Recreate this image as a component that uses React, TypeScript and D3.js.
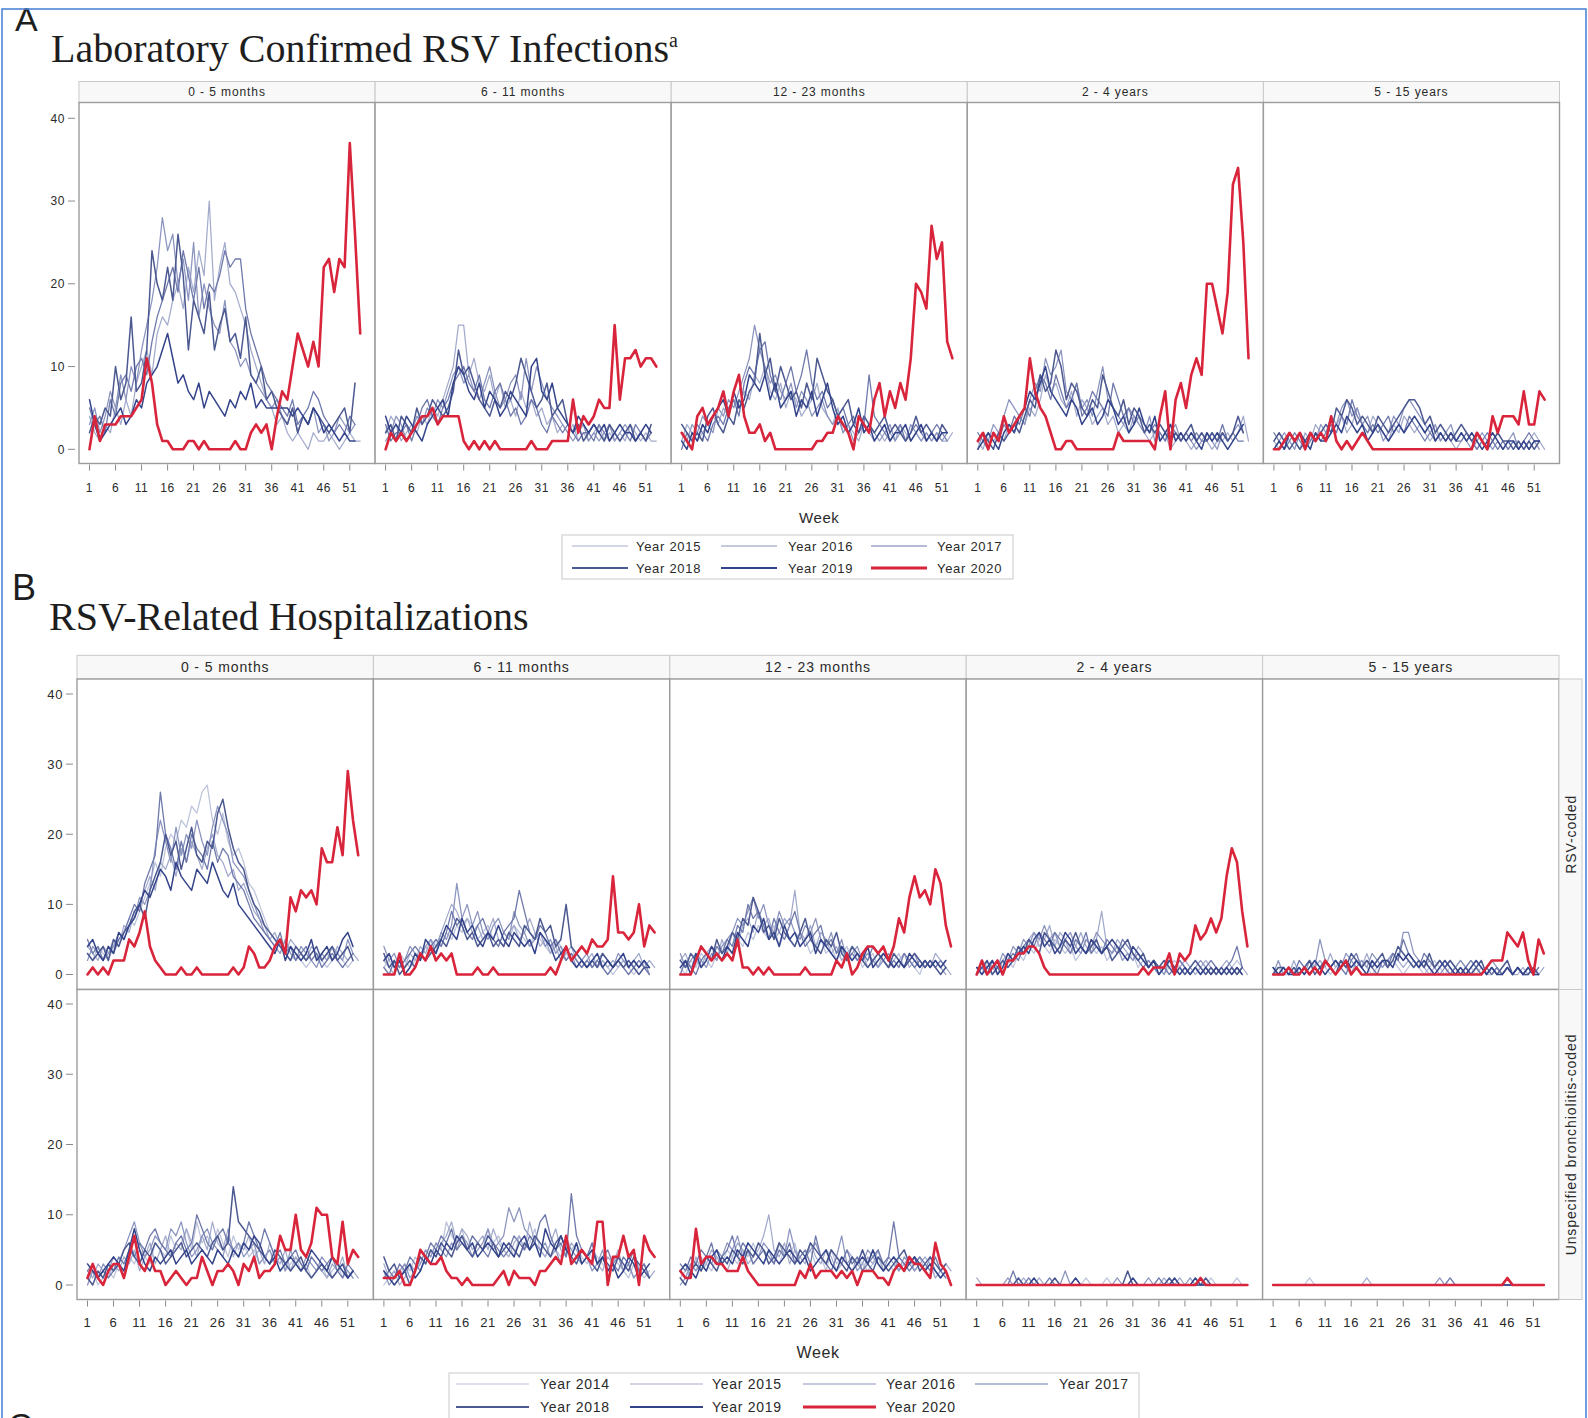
import React from 'react';
import * as d3 from 'd3';

// ---- axis / category definitions ----
const WEEK_TICKS = [1, 6, 11, 16, 21, 26, 31, 36, 41, 46, 51];
const Y_TICKS = [0, 10, 20, 30, 40];
const AGE_GROUPS = ['0 - 5 months', '6 - 11 months', '12 - 23 months', '2 - 4 years', '5 - 15 years'];
const LAB_YEARS = [2015, 2016, 2017, 2018, 2019, 2020];
const HOSP_YEARS = [2014, 2015, 2016, 2017, 2018, 2019, 2020];
const ROW_LABELS = ['RSV-coded', 'Unspecified bronchiolitis-coded'];

// ---- A: laboratory confirmed RSV infections, weekly counts (2015..2020) ----
const LAB_0_5M = [
  [4,2,1,3,2,5,3,6,4,8,10,12,9,14,16,15,18,20,17,22,19,24,21,30,18,22,25,20,19,17,15,12,10,8,6,5,3,4,2,1,2,1,0,2,1,1,2,1,0,1,2,1,1],
  [3,5,2,4,7,5,9,6,10,8,12,15,18,22,28,24,26,20,23,18,25,16,20,17,15,14,18,13,12,10,11,9,8,7,6,5,6,4,3,5,2,4,3,5,2,3,1,2,4,3,2,3],
  [5,3,4,2,6,4,8,9,7,10,11,9,13,16,18,20,22,19,24,21,18,22,17,20,19,21,24,22,23,23,17,14,12,10,8,7,6,5,4,6,3,4,5,7,6,4,3,2,3,2,4,3],
  [2,4,3,5,4,10,6,8,16,7,8,12,24,20,18,22,18,26,21,12,18,16,14,19,12,15,17,13,14,11,16,9,8,10,6,7,5,4,3,5,2,4,3,5,4,3,2,3,4,5,2,8],
  [6,3,1,2,3,4,5,3,4,6,5,8,9,10,12,14,11,8,9,7,6,8,5,7,6,5,4,6,5,7,6,8,5,6,5,5,5,5,5,4,5,4,3,5,4,2,3,2,1,2,1,1],
  [0,4,1,3,3,3,4,4,4,5,6,11,8,3,1,1,0,0,0,1,1,0,1,0,0,0,0,0,1,0,0,2,3,2,3,0,4,7,6,10,14,12,10,13,10,22,23,19,23,22,37,26,14],
];
const LAB_6_11M = [
  [2,4,3,1,2,3,2,4,3,5,4,6,8,10,15,15,9,11,8,7,9,6,8,5,6,4,7,5,6,4,5,3,4,2,3,2,3,1,2,1,2,3,1,2,1,2,1,3,2,1,2,1,1],
  [1,2,4,3,1,2,4,3,5,4,6,5,7,9,10,8,9,7,6,8,10,7,5,6,8,9,6,11,7,10,8,6,5,4,3,2,1,2,3,1,2,1,2,3,1,2,3,2,1,2,1,2],
  [3,1,2,2,3,1,3,5,6,4,3,5,6,8,9,10,8,7,9,6,5,7,8,6,4,5,3,4,6,5,3,2,4,3,2,3,2,1,2,2,1,3,2,1,2,1,2,1,3,2,1,2],
  [2,3,1,4,3,2,5,3,4,6,5,4,5,7,12,9,10,8,6,5,4,6,5,7,6,8,11,9,7,5,6,8,4,5,6,3,2,3,1,2,3,2,1,3,2,1,2,3,1,2,1,3],
  [4,2,3,2,4,3,2,1,3,4,5,6,4,8,10,9,7,6,8,5,7,6,4,5,7,6,5,4,10,11,7,6,8,5,4,3,2,4,3,2,3,2,3,1,2,3,2,2,1,2,3,2],
  [0,2,1,2,1,2,3,4,4,5,3,4,4,4,4,1,0,1,0,1,0,1,0,0,0,0,0,0,1,0,0,0,1,1,1,1,6,2,4,3,4,6,5,5,15,6,11,11,12,10,11,11,10],
];
const LAB_12_23M = [
  [1,3,2,1,2,3,4,3,5,4,6,5,7,6,9,8,10,7,6,8,5,7,6,4,5,6,8,5,4,3,5,2,3,2,1,3,2,1,2,1,2,1,3,2,1,2,1,2,1,2,1,1,2],
  [2,1,3,2,4,3,2,5,4,6,5,7,9,11,15,12,10,8,9,7,6,8,5,7,6,4,5,6,4,3,4,2,3,1,2,4,3,2,1,2,3,1,2,1,3,2,1,2,1,2,1,2],
  [0,2,1,3,2,1,3,4,3,5,6,4,8,10,9,12,13,9,7,6,8,10,7,9,12,8,6,7,5,6,4,5,3,4,2,3,9,4,3,2,1,2,3,1,2,3,2,1,2,3,2,1],
  [3,2,1,2,1,4,5,3,2,4,3,6,5,7,8,14,9,11,7,10,8,6,7,5,8,6,11,9,7,6,4,5,6,3,2,4,3,2,3,4,2,3,2,1,2,4,2,3,2,1,3,2],
  [1,0,2,1,3,2,4,5,6,4,7,5,6,9,8,7,9,6,8,5,6,7,4,6,5,7,4,6,8,5,3,4,2,3,5,2,3,1,2,3,1,2,2,3,1,2,3,1,2,1,2,2],
  [2,1,0,4,5,3,4,5,7,4,7,9,4,2,2,3,1,2,0,0,0,0,0,0,0,0,1,1,2,2,4,3,2,0,4,3,2,6,8,4,7,5,8,6,11,20,19,17,27,23,25,13,11],
];
const LAB_2_4Y = [
  [1,0,2,1,2,1,3,2,4,3,5,4,6,9,7,8,6,5,7,4,6,5,3,4,5,3,4,2,3,2,4,3,2,1,2,1,2,0,1,2,1,0,1,2,1,0,1,1,2,1,2,4,1],
  [0,2,1,3,2,4,6,5,4,3,6,8,7,11,9,10,12,7,6,8,5,6,4,7,10,6,5,4,3,5,4,3,2,4,1,2,1,2,3,1,2,1,0,1,2,1,0,2,1,2,3,2],
  [2,1,0,2,1,3,2,4,3,5,4,7,9,8,6,9,7,5,6,8,4,5,7,6,5,4,8,6,4,5,3,4,3,2,3,2,1,3,2,1,2,1,2,1,1,2,1,3,1,2,1,1],
  [1,2,1,0,2,1,2,3,2,4,6,5,9,7,8,12,10,6,8,7,5,4,6,5,9,7,5,4,6,3,5,4,2,3,2,3,2,1,2,1,2,3,1,2,1,2,1,2,1,2,4,2],
  [0,1,2,1,0,2,3,2,4,5,7,6,8,10,7,6,5,4,6,5,3,4,5,3,4,6,5,3,4,2,3,5,3,2,4,1,2,3,1,2,1,2,1,0,2,1,2,1,0,1,2,3],
  [1,2,0,2,1,4,2,3,4,5,11,7,5,4,2,0,0,1,1,0,0,0,0,0,0,0,0,2,1,1,1,1,1,1,0,4,7,0,6,8,5,9,11,9,20,20,17,14,19,32,34,25,11],
];
const LAB_5_15Y = [
  [1,0,1,2,1,0,2,1,3,2,1,2,3,4,2,3,5,3,2,4,3,2,1,3,2,4,3,2,3,2,1,2,1,2,1,0,1,2,1,0,1,0,1,2,1,0,1,1,0,1,2,1,0],
  [0,1,2,1,0,2,1,2,1,3,2,4,3,5,6,4,5,3,4,2,3,1,2,4,3,5,6,5,4,3,2,3,1,2,3,1,2,1,0,1,2,1,0,1,0,1,2,0,1,0,1,0],
  [2,1,0,1,2,1,0,1,2,1,2,3,2,4,3,6,4,3,2,3,2,3,4,2,3,2,4,3,2,1,2,1,2,1,2,1,1,2,1,0,1,2,1,0,1,0,1,0,1,2,1,1],
  [1,2,1,0,1,0,1,2,1,2,3,2,5,4,6,5,3,4,3,2,4,3,2,3,4,5,6,6,5,3,4,2,3,2,1,2,3,2,1,2,1,0,1,2,1,1,0,1,0,1,0,1],
  [0,1,0,2,1,2,1,0,2,1,1,2,3,2,4,3,2,3,1,2,3,2,1,2,3,2,3,4,3,2,3,1,2,1,2,1,2,1,2,1,0,1,2,1,0,1,1,0,1,0,1,1],
  [0,0,1,2,1,2,0,2,1,2,1,4,1,0,1,0,1,2,1,0,0,0,0,0,0,0,0,0,0,0,0,0,0,0,0,0,0,0,0,2,1,0,4,2,4,4,4,3,7,3,3,7,6],
];

// ---- B: RSV-coded hospitalizations, weekly counts (2014..2020) ----
const HOSP_RSV_0_5M = [
  [3,2,4,3,2,4,5,6,8,7,9,11,13,16,14,18,20,19,22,21,24,23,26,27,22,20,23,19,17,18,16,13,12,10,8,6,5,4,3,2,3,2,1,2,3,2,1,2,3,2,1,2],
  [4,3,2,4,3,5,4,7,6,9,10,12,14,12,16,15,17,14,18,16,19,17,15,18,20,17,16,14,15,12,13,11,9,8,7,5,6,4,3,5,4,3,2,4,3,2,3,2,4,3,2,3,2],
  [2,4,3,2,3,4,6,5,7,8,11,10,12,18,22,19,16,21,17,20,18,22,19,17,21,24,22,20,16,15,14,12,10,8,6,5,4,3,5,3,2,4,3,2,1,3,2,4,3,2,5,3],
  [5,3,4,2,4,3,5,6,8,10,9,13,15,17,26,20,18,15,19,16,20,18,17,15,19,16,18,17,14,13,12,10,8,7,6,5,4,6,3,4,2,3,4,2,3,1,2,3,2,1,2,3],
  [3,2,3,4,2,5,4,6,7,9,10,8,12,14,16,20,17,19,15,18,21,17,16,19,18,23,25,21,18,16,15,12,10,9,7,6,5,4,3,2,4,3,2,3,4,2,3,4,2,3,4,2],
  [4,5,3,2,4,3,6,5,7,8,10,12,11,13,15,14,12,16,14,13,12,15,14,13,16,14,12,11,13,10,9,8,7,6,5,4,3,5,2,4,3,2,3,5,2,3,4,2,3,5,6,4],
  [0,1,0,1,0,2,2,2,5,4,6,9,4,2,1,0,0,0,1,0,0,1,0,0,0,0,0,0,1,0,1,4,3,1,1,2,4,5,3,11,9,12,11,12,10,18,16,16,21,17,29,22,17],
];
const HOSP_RSV_6_11M = [
  [1,2,1,3,2,1,2,3,4,3,5,4,6,5,7,6,8,7,5,6,7,5,4,6,5,7,6,5,4,6,5,4,3,5,4,3,2,3,2,1,2,1,2,1,0,1,2,1,0,1,2,1],
  [2,1,0,2,1,3,2,4,3,5,4,6,8,10,9,7,8,6,7,5,6,8,5,4,6,7,5,6,8,6,4,5,3,4,2,3,4,2,1,2,3,1,2,1,2,1,2,1,2,3,1,2,1],
  [4,2,3,1,2,4,3,2,4,5,3,6,5,7,13,8,10,7,9,6,5,7,8,6,5,9,7,6,4,5,6,4,5,3,4,2,3,1,2,3,1,2,3,2,1,3,2,1,2,1,2,0],
  [1,0,2,1,2,3,4,3,2,4,5,4,6,9,7,8,6,5,7,8,6,5,4,6,7,8,12,9,6,5,7,6,4,5,3,2,3,2,1,2,1,2,1,0,1,2,1,0,1,2,1,0],
  [3,1,2,0,1,2,1,3,2,3,4,5,4,6,8,7,5,6,4,5,6,4,5,4,6,5,4,7,6,5,8,6,7,4,5,10,4,3,2,1,2,1,3,2,1,2,1,2,1,0,1,1],
  [2,3,1,2,0,1,3,2,5,4,3,5,7,6,5,8,6,7,5,4,6,5,7,5,4,6,5,4,5,3,6,5,4,2,3,4,2,1,2,1,2,3,1,2,1,2,3,1,2,1,2,1],
  [0,0,0,3,0,0,1,3,2,4,2,3,2,3,0,0,0,0,1,0,0,1,0,0,0,0,0,0,0,0,0,0,1,0,2,4,2,3,4,3,5,4,4,5,14,6,6,5,6,10,4,7,6],
];
const HOSP_RSV_12_23M = [
  [1,0,2,1,3,2,1,3,2,4,3,5,4,6,5,7,6,5,7,4,6,5,4,6,5,3,4,5,3,4,2,3,4,2,3,1,2,3,1,2,1,2,3,1,2,1,0,2,1,2,1,2],
  [2,3,1,2,1,3,4,2,5,3,6,4,7,8,6,9,7,8,5,6,8,7,12,6,5,7,4,6,5,3,4,2,3,4,2,3,1,2,1,3,2,1,2,3,1,2,1,2,1,3,2,1,0],
  [3,1,2,3,2,1,3,2,4,5,6,8,7,9,11,8,10,7,6,9,7,8,6,5,7,6,8,5,4,6,3,5,2,3,4,2,3,2,1,2,3,1,2,1,2,3,1,2,1,2,1,0],
  [0,2,1,0,2,3,2,4,3,5,4,7,6,10,8,9,7,5,8,6,5,7,9,6,4,5,6,7,4,5,3,4,2,3,2,3,2,4,3,2,1,2,1,3,2,1,2,1,2,1,2,1],
  [2,1,3,2,4,3,2,5,3,4,6,5,8,7,11,9,6,7,5,8,6,5,4,6,8,5,4,3,5,4,6,3,2,4,3,2,1,2,3,2,1,3,2,1,2,3,2,1,2,1,0,1],
  [1,2,0,3,1,2,4,3,2,4,3,6,5,4,7,6,8,5,6,4,7,5,6,4,5,6,3,5,4,3,2,4,3,2,3,2,4,1,2,3,2,1,2,1,3,2,1,2,1,2,1,2],
  [0,0,0,2,4,3,2,3,2,3,2,5,1,1,0,1,0,1,0,0,0,0,0,0,1,0,0,0,0,0,2,1,3,0,1,3,4,4,3,4,2,4,8,6,11,14,11,12,10,15,13,7,4],
];
const HOSP_RSV_2_4Y = [
  [0,1,0,1,2,1,2,1,3,2,4,3,5,4,3,5,4,3,4,2,3,5,4,3,4,2,3,4,3,2,3,1,2,1,2,1,0,1,2,1,0,1,0,1,0,1,0,1,0,1,2,1],
  [1,0,2,1,0,2,3,2,4,3,5,6,4,5,7,4,6,5,3,4,6,4,3,5,9,4,3,5,4,3,2,4,3,1,2,1,2,1,0,1,2,1,0,1,2,1,0,1,2,1,0,1,0],
  [0,2,1,0,1,3,2,4,3,5,4,6,5,7,5,6,4,5,6,4,3,5,4,6,5,4,3,4,2,3,2,3,2,1,2,1,0,2,1,2,1,0,1,2,1,0,1,0,1,0,1,0],
  [1,1,0,2,1,0,2,3,2,4,5,4,6,5,4,6,5,4,3,5,4,6,3,4,3,5,4,3,5,4,3,2,1,2,1,0,1,0,1,2,1,0,1,0,1,2,1,0,1,2,4,1],
  [0,1,2,0,1,2,1,2,4,3,5,4,3,6,5,4,3,5,4,6,4,3,4,5,3,4,2,3,4,5,3,2,3,1,2,1,2,1,0,1,0,1,2,1,0,1,0,1,0,1,0,1],
  [1,0,1,2,0,1,3,2,3,4,3,5,6,4,5,3,4,6,5,3,4,3,5,4,3,4,5,4,3,2,4,3,2,1,2,0,1,2,1,0,1,0,1,0,1,0,1,0,1,0,1,0],
  [0,2,0,1,2,0,2,2,3,3,4,4,3,1,0,0,0,0,0,0,0,0,0,0,0,0,0,0,0,0,0,0,1,0,1,1,1,3,0,3,2,3,7,5,6,8,6,8,14,18,16,9,4],
];
const HOSP_RSV_5_15Y = [
  [0,1,0,0,1,0,1,0,1,2,1,0,1,2,1,0,1,2,1,0,1,2,1,2,1,0,1,2,1,0,1,2,1,0,1,0,1,0,1,0,1,0,0,1,0,1,0,1,0,1,0,0],
  [1,0,1,0,2,0,1,0,1,2,1,3,1,2,1,0,2,1,3,1,2,1,2,3,2,1,2,1,2,1,0,1,2,1,0,1,2,1,0,1,0,1,0,1,0,1,0,0,1,0,1,0,1],
  [0,2,0,1,0,1,0,2,1,5,2,1,2,1,3,2,1,2,1,3,2,1,2,3,2,6,6,3,2,1,2,1,0,1,2,1,2,1,0,1,0,1,2,1,0,1,0,1,0,0,1,0],
  [1,0,0,1,0,2,1,0,1,0,2,1,2,1,0,2,3,1,2,1,0,2,1,3,2,5,3,2,1,3,2,1,2,1,0,1,0,1,2,1,0,1,0,1,0,1,0,1,0,1,0,1],
  [0,1,1,0,1,0,1,2,0,1,2,1,0,2,1,3,2,1,2,1,2,3,1,2,4,3,2,1,2,1,3,1,2,1,2,1,0,1,0,1,2,0,1,0,1,2,0,1,0,0,1,0],
  [1,0,1,0,0,1,0,1,2,1,0,1,2,1,2,1,2,1,0,2,1,2,2,1,3,2,3,2,1,2,1,0,1,2,1,0,1,0,1,2,1,0,1,0,0,1,0,1,0,1,0,0],
  [0,0,0,1,0,0,1,0,1,0,2,1,0,1,2,0,1,0,0,0,0,0,0,0,0,0,0,0,0,0,0,0,0,0,0,0,0,0,0,0,0,1,2,2,2,6,5,4,6,2,0,5,3],
];

// ---- B: unspecified bronchiolitis-coded hospitalizations (2014..2020) ----
const HOSP_BRONCH_0_5M = [
  [1,2,0,1,2,1,3,2,4,3,5,4,3,6,5,4,7,5,6,8,5,9,6,7,5,8,6,4,7,5,6,4,5,3,4,5,3,4,2,3,4,2,3,1,2,3,1,2,3,1,2,1],
  [2,1,3,2,1,3,2,4,3,5,2,4,6,3,5,7,4,6,5,8,6,4,7,5,9,6,5,8,4,6,5,7,4,5,3,6,4,3,5,2,4,3,2,4,3,2,1,3,2,4,1,2,1],
  [0,2,1,3,2,4,3,5,7,9,6,4,5,7,6,5,8,7,9,6,4,5,7,8,6,5,4,7,5,6,4,5,6,3,4,5,3,4,2,5,3,2,4,3,2,4,3,1,2,3,2,1],
  [2,3,1,2,1,2,4,3,5,4,6,5,7,8,6,5,4,6,7,5,6,10,8,6,5,7,8,6,5,4,6,9,7,5,8,6,4,5,3,4,5,3,2,4,3,2,3,4,2,1,3,2],
  [1,0,2,1,3,2,3,5,6,4,3,5,4,6,5,3,4,5,6,4,5,6,5,4,6,7,5,6,14,9,8,7,6,5,4,3,5,4,3,2,3,4,2,1,2,3,2,1,2,3,1,2],
  [3,2,1,2,3,4,3,2,5,8,5,3,2,4,3,4,5,3,4,5,3,4,5,4,3,5,4,3,5,4,6,5,7,6,4,3,4,2,3,4,3,2,3,5,4,3,2,4,3,2,1,2],
  [1,3,1,0,2,3,3,1,4,7,3,2,4,2,2,0,1,2,1,0,1,1,4,2,0,2,2,3,2,0,3,2,4,1,2,2,3,7,5,5,10,5,4,6,11,10,10,4,3,9,3,5,4],
];
const HOSP_BRONCH_6_11M = [
  [0,1,2,1,3,2,4,3,5,4,6,5,9,7,6,8,5,7,6,5,8,6,7,5,6,4,7,5,6,8,5,4,6,5,4,7,5,6,4,3,5,4,3,2,4,3,2,1,3,2,1,2],
  [3,1,2,0,1,3,2,4,3,5,4,6,7,9,6,8,7,5,6,7,5,8,6,5,4,6,7,5,9,6,5,4,6,8,5,4,6,5,3,4,6,3,2,4,3,5,2,3,1,2,3,1,2],
  [2,0,1,2,3,1,2,3,5,4,6,5,4,6,5,7,6,4,5,6,8,5,6,7,11,9,11,8,7,6,5,6,4,5,3,6,5,4,3,4,2,3,5,2,3,4,2,3,1,2,3,1],
  [1,2,1,3,2,4,3,2,4,6,5,7,6,8,5,6,5,7,6,5,4,6,5,4,5,7,6,5,7,6,9,10,7,5,6,4,13,7,5,4,6,3,4,5,3,2,4,3,5,2,3,1],
  [4,2,3,1,2,0,2,4,3,5,4,6,5,4,6,7,5,4,6,5,7,6,4,5,6,5,4,6,5,7,6,5,4,6,7,5,4,3,5,4,3,2,4,3,2,4,3,2,4,3,2,1],
  [2,1,0,1,2,3,1,2,4,3,5,4,6,5,7,6,5,6,4,5,6,5,4,6,5,4,6,7,5,6,4,8,6,5,7,5,4,6,3,4,5,3,4,2,3,1,2,4,3,1,2,3],
  [1,1,1,2,0,0,2,5,4,3,3,4,2,1,1,0,1,0,0,0,0,0,1,2,0,2,1,1,1,0,2,2,3,4,3,7,3,4,5,4,3,9,9,0,4,4,7,4,5,0,7,5,4],
];
const HOSP_BRONCH_12_23M = [
  [1,2,3,2,4,3,2,4,3,5,4,3,5,4,6,4,3,5,4,3,5,4,6,3,4,5,3,4,2,5,3,4,3,2,4,3,2,3,4,2,3,2,4,3,2,3,4,2,3,1,2,1],
  [2,3,1,4,2,3,5,4,3,2,4,6,5,3,4,5,7,10,5,4,6,3,5,4,3,6,4,3,5,4,2,3,5,4,3,2,4,3,5,2,3,4,2,3,4,2,3,4,3,1,2,3,2],
  [0,1,3,2,3,4,3,5,4,6,5,7,4,5,3,4,6,5,3,6,4,8,5,3,4,5,6,4,3,5,4,7,3,4,2,3,5,4,3,2,4,3,2,4,3,2,3,2,4,2,1,2],
  [3,2,4,3,5,4,6,3,4,5,7,4,6,5,3,4,5,4,3,5,4,6,3,4,5,3,7,4,3,2,4,3,5,3,4,2,3,4,5,3,4,9,4,3,2,3,4,3,2,4,2,1],
  [1,0,2,3,2,4,3,2,4,3,5,4,3,5,4,6,5,3,4,6,5,4,3,5,4,6,5,4,3,5,4,3,2,4,3,5,3,2,4,3,2,3,4,5,3,4,2,3,4,3,2,3],
  [2,3,2,1,3,2,4,5,3,4,3,5,4,6,5,4,3,5,4,3,4,5,4,3,4,2,3,4,5,3,2,4,3,2,3,4,3,5,3,2,3,4,3,2,3,4,3,2,3,2,1,2],
  [2,1,1,8,3,4,4,3,3,2,2,2,4,2,1,0,0,0,0,0,0,0,0,2,1,3,1,2,2,2,1,2,1,2,0,2,2,2,1,1,0,2,3,2,4,3,3,2,1,6,3,2,0],
];
const HOSP_BRONCH_2_4Y = [
  [0,0,0,0,0,0,0,0,0,0,0,0,0,0,0,0,0,0,0,0,0,1,0,0,0,1,0,0,0,0,0,0,0,0,0,0,0,0,0,0,0,0,0,0,0,1,0,0,0,0,1,0],
  [1,0,0,0,0,0,0,0,0,1,0,0,1,0,0,0,0,0,0,0,0,0,0,0,0,0,0,0,0,0,0,0,0,0,0,0,1,0,0,1,0,0,0,0,0,0,0,0,0,0,0,0,0],
  [0,0,0,0,0,0,1,0,0,0,0,0,0,0,0,0,0,2,0,0,0,0,0,0,0,0,0,1,0,0,0,0,0,1,0,0,0,0,0,0,0,1,0,0,0,0,0,0,0,0,0,0],
  [0,0,0,0,0,0,0,2,0,0,1,0,0,0,1,0,0,0,0,0,0,0,0,0,0,0,0,0,0,0,0,0,0,0,0,1,0,0,0,0,0,0,0,1,0,0,0,0,0,0,0,0],
  [0,0,0,0,0,0,0,0,1,0,0,0,0,0,0,1,0,0,0,0,0,0,0,0,0,0,0,0,0,2,0,0,0,0,0,0,0,1,0,0,0,0,0,0,1,0,0,0,0,0,0,0],
  [0,0,0,0,0,0,0,0,0,0,0,1,0,0,0,0,0,0,0,1,0,0,0,0,0,0,0,0,0,0,1,0,0,0,0,0,0,0,1,0,0,0,1,0,0,0,0,0,0,0,0,0],
  [0,0,0,0,0,0,0,0,0,0,0,0,0,0,0,0,0,0,0,0,0,0,0,0,0,0,0,0,0,0,0,0,0,0,0,0,0,0,0,0,0,0,0,1,0,0,0,0,0,0,0,0,0],
];
const HOSP_BRONCH_5_15Y = [
  [0,0,0,0,0,0,0,1,0,0,0,0,0,0,0,0,0,0,0,0,0,0,0,0,0,0,0,0,0,0,0,0,0,0,0,0,0,0,0,0,0,0,0,0,0,0,0,0,0,0,0,0],
  [0,0,0,0,0,0,0,0,0,0,0,0,0,0,0,0,0,0,1,0,0,0,0,0,0,0,0,0,0,0,0,0,0,0,0,0,0,0,0,0,0,0,0,0,0,0,0,0,0,0,0,0,0],
  [0,0,0,0,0,0,0,0,0,0,0,0,0,0,0,0,0,0,0,0,0,0,0,0,0,0,0,0,0,0,0,0,1,0,0,0,0,0,0,0,0,0,0,0,0,0,0,0,0,0,0,0],
  [0,0,0,0,0,0,0,0,0,0,0,0,0,0,0,0,0,0,0,0,0,0,0,0,0,0,0,0,0,0,0,0,0,0,1,0,0,0,0,0,0,0,0,0,0,0,0,0,0,0,0,0],
  [0,0,0,0,0,0,0,0,0,0,0,0,0,0,0,0,0,0,0,0,0,0,0,0,0,0,0,0,0,0,0,0,0,0,0,0,0,0,0,0,0,0,0,0,0,1,0,0,0,0,0,0],
  [0,0,0,0,0,0,0,0,0,0,0,0,0,0,0,0,0,0,0,0,0,0,0,0,0,0,0,0,0,0,0,0,0,0,0,0,0,0,0,0,0,0,0,0,0,0,0,0,0,0,0,0],
  [0,0,0,0,0,0,0,0,0,0,0,0,0,0,0,0,0,0,0,0,0,0,0,0,0,0,0,0,0,0,0,0,0,0,0,0,0,0,0,0,0,0,0,0,0,1,0,0,0,0,0,0,0],
];

const LAB_PANELS = [LAB_0_5M, LAB_6_11M, LAB_12_23M, LAB_2_4Y, LAB_5_15Y];
const HOSP_RSV_PANELS = [HOSP_RSV_0_5M, HOSP_RSV_6_11M, HOSP_RSV_12_23M, HOSP_RSV_2_4Y, HOSP_RSV_5_15Y];
const HOSP_BRONCH_PANELS = [HOSP_BRONCH_0_5M, HOSP_BRONCH_6_11M, HOSP_BRONCH_12_23M, HOSP_BRONCH_2_4Y, HOSP_BRONCH_5_15Y];

// ---- styling ----
const YEAR_STYLE: Record<number, { color: string; width: number; legendWidth: number }> = {
  2014: { color: '#bcc3db', width: 1.25, legendWidth: 1.2 },
  2015: { color: '#a3abcc', width: 1.25, legendWidth: 1.2 },
  2016: { color: '#8b94be', width: 1.25, legendWidth: 1.2 },
  2017: { color: '#6f79ab', width: 1.3, legendWidth: 1.2 },
  2018: { color: '#4c5990', width: 1.5, legendWidth: 2.2 },
  2019: { color: '#33438a', width: 1.5, legendWidth: 2.2 },
  2020: { color: '#d9253b', width: 2.6, legendWidth: 3 },
};

const SANS = '"Liberation Sans", Arial, sans-serif';
const SERIF = '"Liberation Serif", "Times New Roman", serif';
const TEXT = '#2a2a2a';
const FRAME = '#9c9c9c';

type Grid = {
  left: number;
  colW: number;
  stripTop: number;
  stripBottom: number;
  rows: { top: number; bottom: number; y0: number; y40: number }[];
};

const GRID_A: Grid = {
  left: 79, colW: 296.1, stripTop: 81.5, stripBottom: 102.5,
  rows: [{ top: 102.5, bottom: 463.5, y0: 449.3, y40: 118.3 }],
};
const GRID_B: Grid = {
  left: 77, colW: 296.4, stripTop: 655.3, stripBottom: 679,
  rows: [
    { top: 679, bottom: 989.5, y0: 974.5, y40: 694 },
    { top: 989.5, bottom: 1299.5, y0: 1285, y40: 1004 },
  ],
};

function xScaleFor(grid: Grid, col: number) {
  const l = grid.left + col * grid.colW;
  return d3.scaleLinear().domain([1, 53]).range([l + 10.5, l + 10.5 + 52 * 5.206]);
}

function SeriesLines({ data, years, x, y }: { data: number[][]; years: number[]; x: d3.ScaleLinear<number, number>; y: d3.ScaleLinear<number, number> }) {
  const line = d3.line<number>().x((_, i) => x(i + 1)).y((d) => y(d));
  return (
    <g>
      {data.map((s, k) => {
        const st = YEAR_STYLE[years[k]];
        return (
          <path key={k} d={line(s) ?? ''} fill="none" stroke={st.color} strokeWidth={st.width}
            strokeLinejoin="round" strokeLinecap="round" />
        );
      })}
    </g>
  );
}

function PanelGrid({ grid, rowsData, years, tickFont, stripFont, tickLabelY, weekY, weekFont }: {
  grid: Grid; rowsData: number[][][][]; years: number[]; tickFont: number; stripFont: number; tickLabelY: number; weekY: number; weekFont: number;
}) {
  const right = grid.left + 5 * grid.colW;
  const lastRow = grid.rows[grid.rows.length - 1];
  return (
    <g>
      {/* column headers */}
      {AGE_GROUPS.map((g, c) => {
        const l = grid.left + c * grid.colW;
        return (
          <g key={g}>
            <rect x={l} y={grid.stripTop} width={grid.colW} height={grid.stripBottom - grid.stripTop}
              fill="#f8f8f8" stroke="#c9c9c9" strokeWidth={1} />
            <text x={l + grid.colW / 2} y={(grid.stripTop + grid.stripBottom) / 2 + stripFont * 0.36}
              textAnchor="middle" fontFamily={SANS} fontSize={stripFont} fill={TEXT} letterSpacing={0.9}>{g}</text>
          </g>
        );
      })}
      {grid.rows.map((r, ri) => {
        const y = d3.scaleLinear().domain([0, 40]).range([r.y0, r.y40]);
        return (
          <g key={ri}>
            {AGE_GROUPS.map((_, c) => {
              const l = grid.left + c * grid.colW;
              const x = xScaleFor(grid, c);
              return (
                <g key={c}>
                  <rect x={l} y={r.top} width={grid.colW} height={r.bottom - r.top} fill="#ffffff" />
                  <SeriesLines data={rowsData[ri][c]} years={years} x={x} y={y} />
                  <rect x={l} y={r.top} width={grid.colW} height={r.bottom - r.top} fill="none" stroke={FRAME} strokeWidth={1.4} />
                </g>
              );
            })}
            {/* y axis */}
            {Y_TICKS.map((t) => (
              <g key={t}>
                <line x1={grid.left - 11} x2={grid.left - 4} y1={y(t)} y2={y(t)} stroke="#8a8a8a" strokeWidth={1} />
                <text x={grid.left - 14} y={y(t) + tickFont * 0.35} textAnchor="end" fontFamily={SANS}
                  fontSize={tickFont} fill={TEXT} letterSpacing={0.6}>{t}</text>
              </g>
            ))}
          </g>
        );
      })}
      {/* x axes */}
      {AGE_GROUPS.map((_, c) => {
        const x = xScaleFor(grid, c);
        return (
          <g key={c}>
            {WEEK_TICKS.map((w) => (
              <g key={w}>
                <line x1={x(w)} x2={x(w)} y1={lastRow.bottom + 1} y2={lastRow.bottom + 7} stroke="#8a8a8a" strokeWidth={1} />
                <text x={x(w)} y={tickLabelY} textAnchor="middle" fontFamily={SANS} fontSize={tickFont}
                  fill={TEXT} letterSpacing={0.6}>{w}</text>
              </g>
            ))}
          </g>
        );
      })}
      <text x={(grid.left + right) / 2} y={weekY} textAnchor="middle" fontFamily={SANS} fontSize={weekFont}
        fill={TEXT} letterSpacing={0.6}>Week</text>
    </g>
  );
}

function Legend({ x, y, w, h, years, cols, lineStarts, textStarts, lineLen, rowYs, font }: {
  x: number; y: number; w: number; h: number; years: number[]; cols: number; lineStarts: number[]; textStarts: number[]; lineLen: number; rowYs: number[]; font: number;
}) {
  return (
    <g>
      <rect x={x} y={y} width={w} height={h} fill="#ffffff" stroke="#c9c9c9" strokeWidth={1} />
      {years.map((yr, i) => {
        const c = i % cols;
        const r = Math.floor(i / cols);
        const st = YEAR_STYLE[yr];
        return (
          <g key={yr}>
            <line x1={lineStarts[c]} x2={lineStarts[c] + lineLen} y1={rowYs[r]} y2={rowYs[r]}
              stroke={st.color} strokeWidth={st.legendWidth} />
            <text x={textStarts[c]} y={rowYs[r] + font * 0.36} fontFamily={SANS} fontSize={font}
              fill={TEXT} letterSpacing={0.7}>{`Year ${yr}`}</text>
          </g>
        );
      })}
    </g>
  );
}

export default function App() {
  const bRight = GRID_B.left + 5 * GRID_B.colW;
  return (
    <svg width={1588} height={1418} viewBox="0 0 1588 1418"
      style={{ position: 'absolute', left: 0, top: 0, background: '#ffffff' }}>
      <rect x={0} y={0} width={1588} height={1418} fill="#ffffff" />

      {/* ---------- Panel A ---------- */}
      <text x={15} y={31} fontFamily={SANS} fontSize={34} fill="#1e1e1e">A</text>
      <text x={51} y={62} fontFamily={SERIF} fontSize={40} fill="#1e1e1e">
        Laboratory Confirmed RSV Infections<tspan fontSize={20} dy={-15}>a</tspan>
      </text>
      <PanelGrid grid={GRID_A} rowsData={[LAB_PANELS]} years={LAB_YEARS}
        tickFont={12} stripFont={12} tickLabelY={492} weekY={523} weekFont={15} />
      <Legend x={562} y={535} w={451} h={44} years={LAB_YEARS} cols={3}
        lineStarts={[572, 721, 871]} textStarts={[636, 788, 937]} lineLen={56}
        rowYs={[546, 568]} font={13} />

      {/* ---------- Panel B ---------- */}
      <text x={12} y={600} fontFamily={SANS} fontSize={36} fill="#1e1e1e">B</text>
      <text x={49} y={630} fontFamily={SERIF} fontSize={40} fill="#1e1e1e">RSV-Related Hospitalizations</text>
      <PanelGrid grid={GRID_B} rowsData={[HOSP_RSV_PANELS, HOSP_BRONCH_PANELS]} years={HOSP_YEARS}
        tickFont={13} stripFont={14} tickLabelY={1327} weekY={1358} weekFont={16} />
      {/* row headers */}
      {GRID_B.rows.map((r, i) => {
        const cx = bRight + 11.5;
        const cy = (r.top + r.bottom) / 2;
        return (
          <g key={i}>
            <rect x={bRight} y={r.top} width={23} height={r.bottom - r.top} fill="#f8f8f8" stroke="#c9c9c9" strokeWidth={1} />
            <text x={cx} y={cy} transform={`rotate(-90 ${cx} ${cy})`} textAnchor="middle" dominantBaseline="central"
              fontFamily={SANS} fontSize={14} fill={TEXT} letterSpacing={0.9}>{ROW_LABELS[i]}</text>
          </g>
        );
      })}
      <Legend x={449} y={1373} w={690} h={60} years={HOSP_YEARS} cols={4}
        lineStarts={[456, 630, 803, 975]} textStarts={[540, 712, 886, 1059]} lineLen={73}
        rowYs={[1384, 1407]} font={14} />

      {/* next panel letter, cut by the page edge */}
      <text x={8} y={1437} fontFamily={SANS} fontSize={34} fill="#1e1e1e">C</text>

      {/* outer frame */}
      <rect x={2} y={9} width={1584} height={1440} fill="none" stroke="#4f84d6" strokeWidth={1.6} />
    </svg>
  );
}
